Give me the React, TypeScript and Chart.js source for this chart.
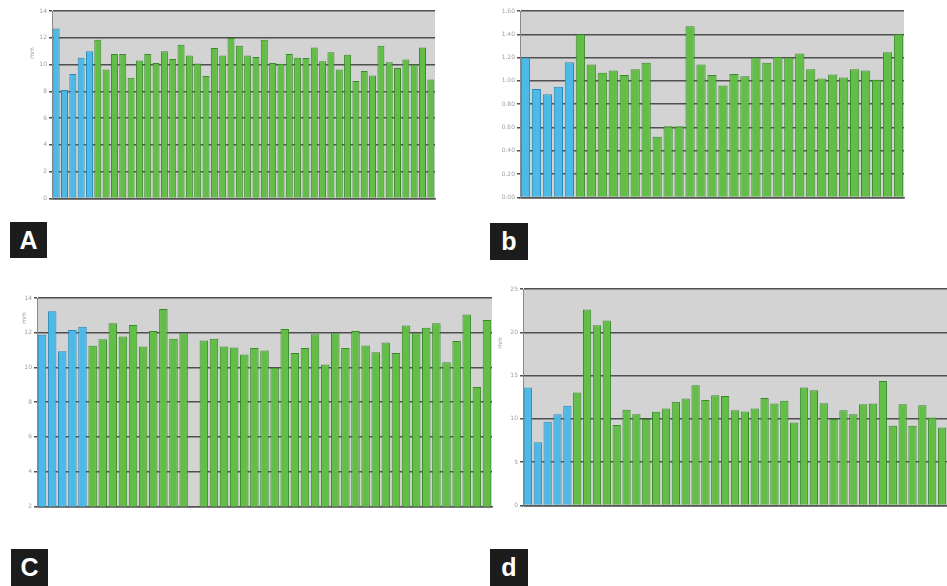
import React, { useEffect, useRef } from "react";
import { Chart, registerables } from "chart.js";
Chart.register(...registerables);

// Panel A
const aControl = [12.7, 8.1, 9.3, 10.5, 11.0];
const aCases = [11.85, 9.63, 10.79, 10.79, 9.01, 10.3, 10.79, 10.12, 10.99, 10.42, 11.48, 10.67, 10.07, 9.14, 11.23, 10.67, 11.98, 11.41, 10.67, 10.57, 11.85, 10.12, 10.05, 10.79, 10.5, 10.49, 11.28, 10.25, 10.91, 9.63, 10.74, 8.77, 9.51, 9.19, 11.41, 10.17, 9.75, 10.37, 10.0, 11.28, 8.89];
// Panel b
const bControl = [1.2, 0.93, 0.885, 0.95, 1.16];
const bCases = [1.4, 1.14, 1.07, 1.09, 1.05, 1.1, 1.155, 0.52, 0.61, 0.61, 1.47, 1.14, 1.05, 0.96, 1.06, 1.04, 1.2, 1.155, 1.205, 1.2, 1.235, 1.1, 1.02, 1.055, 1.03, 1.1, 1.09, 1.01, 1.245, 1.4];
// Panel C (null = empty slot)
const cControl = [11.88, 13.24, 10.93, 12.16, 12.35];
const cCases = [11.25, 11.63, 12.54, 11.78, 12.45, 11.21, 12.1, 13.36, 11.65, 11.97, null, 11.55, 11.65, 11.21, 11.15, 10.74, 11.12, 10.98, 9.98, 12.22, 10.83, 11.12, 11.91, 10.17, 11.97, 11.12, 12.1, 11.27, 10.87, 11.44, 10.83, 12.41, 11.97, 12.29, 12.54, 10.3, 11.53, 13.05, 8.88, 12.73];
// Panel d
const dControl = [13.61, 7.29, 9.66, 10.54, 11.5];
const dCases = [13.04, 22.62, 20.82, 21.36, 9.28, 11.04, 10.54, 9.97, 10.81, 11.2, 11.96, 12.35, 13.88, 12.19, 12.73, 12.65, 11.0, 10.85, 11.2, 12.42, 11.77, 12.08, 9.59, 13.61, 13.31, 11.81, 9.97, 11.0, 10.54, 11.69, 11.77, 14.38, 9.2, 11.69, 9.2, 11.58, 10.16, 9.01];

const panelLetters = ["A", "b", "C", "d"];
const yTitle = "mm";

type PanelProps = {
  control: (number | null)[];
  cases: (number | null)[];
  area: { left: number; top: number; right: number; bottom: number };
  yMin: number;
  yMax: number;
  step: number;
  decimals: number;
  title?: { x: number; y: number } | null;
  padRight?: number;
};

const YW = 32;
const PADT = 6;
const XH = 4;

function Panel(p: PanelProps) {
  const ref = useRef<HTMLCanvasElement | null>(null);
  const padR = p.padRight ?? 2;
  const cx = p.area.left - YW;
  const cy = p.area.top - PADT;
  const cw = p.area.right - cx + padR;
  const ch = p.area.bottom - cy + XH;

  useEffect(() => {
    if (!ref.current) return;
    const n = p.control.length + p.cases.length;
    const labels = Array.from({ length: n }, (_, i) => String(i + 1));
    const ctrlData = [...p.control, ...p.cases.map(() => null)];
    const caseData = [...p.control.map(() => null), ...p.cases];
    const bgPlugin = {
      id: "bg",
      beforeDraw(chart: any) {
        const { ctx, chartArea } = chart;
        ctx.save();
        ctx.fillStyle = "#d3d3d3";
        ctx.fillRect(chartArea.left, chartArea.top, chartArea.right - chartArea.left, chartArea.bottom - chartArea.top);
        ctx.restore();
      },
      afterDraw(chart: any) {
        if (!p.title) return;
        const { ctx } = chart;
        ctx.save();
        ctx.translate(p.title.x - cx, p.title.y - cy);
        ctx.rotate(-Math.PI / 2);
        ctx.fillStyle = "#9a9a9a";
        ctx.font = "6px 'DejaVu Sans'";
        ctx.textAlign = "center";
        ctx.textBaseline = "middle";
        ctx.fillText(yTitle, 0, 0);
        ctx.restore();
      },
    };
    const chart = new Chart(ref.current, {
      type: "bar",
      data: {
        labels,
        datasets: [
          {
            label: "Control",
            data: ctrlData as any,
            backgroundColor: "#4cb9e6",
            borderColor: "#2a88b8",
            borderWidth: 1,
            grouped: false,
            barPercentage: 0.84,
            categoryPercentage: 1,
          } as any,
          {
            label: "Patients",
            data: caseData as any,
            backgroundColor: "#62be46",
            borderColor: "#3a8a2a",
            borderWidth: 1,
            grouped: false,
            barPercentage: 0.84,
            categoryPercentage: 1,
          } as any,
        ],
      },
      options: {
        animation: false,
        responsive: false,
        maintainAspectRatio: false,
        layout: { autoPadding: false, padding: { top: PADT, right: padR, bottom: 0, left: 0 } },
        plugins: { legend: { display: false }, tooltip: { enabled: false } },
        scales: {
          x: {
            grid: { display: false },
            ticks: { display: false },
            border: { display: true, color: "#555", width: 1.5 },
            afterFit: (s: any) => {
              s.height = XH;
            },
          },
          y: {
            min: p.yMin,
            max: p.yMax,
            grid: { color: "#4f4f4f", lineWidth: 1.5, drawTicks: true, tickLength: 3 },
            border: { display: true, color: "#8a8a8a", width: 1 },
            ticks: {
              stepSize: p.step,
              padding: 2,
              color: "#a0a0a0",
              font: { size: 6, family: "'DejaVu Sans'" },
              callback: (v: any) => Number(v).toFixed(p.decimals),
            },
            afterFit: (s: any) => {
              s.width = YW;
            },
          },
        },
      } as any,
      plugins: [bgPlugin],
    });
    return () => chart.destroy();
  }, []);

  return (
    <canvas
      ref={ref}
      width={cw}
      height={ch}
      style={{ position: "absolute", left: cx, top: cy, width: cw, height: ch }}
    />
  );
}

function LetterBox({ x, y, w, h, text }: { x: number; y: number; w: number; h: number; text: string }) {
  return (
    <div
      style={{
        position: "absolute",
        left: x,
        top: y,
        width: w,
        height: h,
        background: "#1c1c1c",
        color: "#fff",
        fontFamily: "'Liberation Sans', Arial, sans-serif",
        fontWeight: 700,
        fontSize: 25,
        display: "flex",
        alignItems: "center",
        justifyContent: "center",
        lineHeight: 1,
      }}
    >
      {text}
    </div>
  );
}

export default function App() {
  return (
    <div
      style={{
        position: "fixed",
        left: 0,
        top: 0,
        width: 947,
        height: 586,
        background: "#fff",
        overflow: "hidden",
      }}
    >
      <Panel control={aControl} cases={aCases} area={{ left: 52, top: 11, right: 435, bottom: 200 }} yMin={0} yMax={14} step={2} decimals={0} title={{ x: 32, y: 53 }} />
      <Panel control={bControl} cases={bCases} area={{ left: 520, top: 11, right: 904, bottom: 199 }} yMin={0} yMax={1.6} step={0.2} decimals={2} />
      <Panel control={cControl} cases={cCases} area={{ left: 37, top: 298, right: 492, bottom: 508 }} yMin={2} yMax={14} step={2} decimals={0} title={{ x: 24, y: 318 }} />
      <Panel control={dControl} cases={dCases} area={{ left: 523, top: 289, right: 947, bottom: 507 }} yMin={0} yMax={25} step={5} decimals={0} title={{ x: 500, y: 343 }} padRight={0} />
      <LetterBox x={10} y={222} w={37} h={36} text={panelLetters[0]} />
      <LetterBox x={490} y={223} w={38} h={37} text={panelLetters[1]} />
      <LetterBox x={11} y={549} w={37} h={37} text={panelLetters[2]} />
      <LetterBox x={490} y={549} w={38} h={37} text={panelLetters[3]} />
    </div>
  );
}
